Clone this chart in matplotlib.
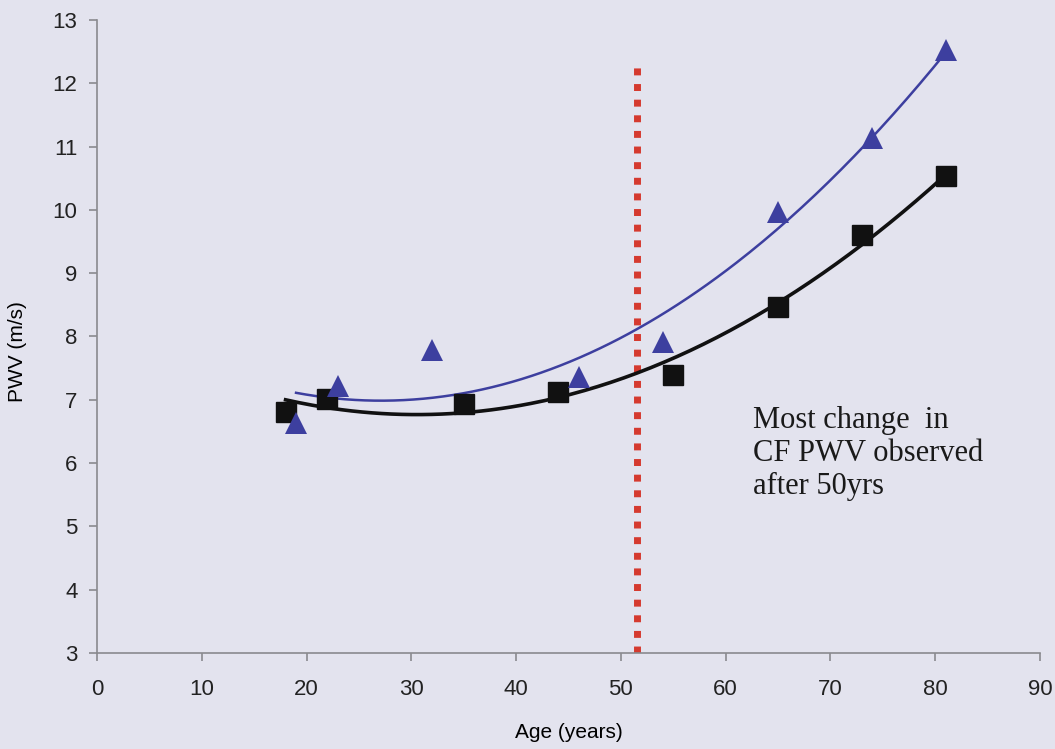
import numpy as np
import matplotlib.pyplot as plt

# carotid-femoral PWV by age, two groups
age_sq = [18, 22, 35, 44, 55, 65, 73, 81]
pwv_sq = [6.81, 7.02, 6.94, 7.13, 7.39, 8.47, 9.60, 10.54]
age_tri = [19, 23, 32, 46, 54, 65, 74, 81]
pwv_tri = [6.63, 7.22, 7.78, 7.36, 7.91, 9.96, 11.14, 12.52]
cutoff_age = 51.5
note = "Most change  in\nCF PWV observed\nafter 50yrs"

bg = "#e3e3ee"
blue = "#3d3f9f"
red = "#d53a2f"

fig = plt.figure(figsize=(10.55, 7.49), dpi=100, facecolor=bg)
ax = fig.add_axes([0.0919, 0.1282, 0.8939, 0.8451], facecolor=bg)


def quad_trend(x, y):
    c = np.polyfit(x, y, 2)
    xs = np.linspace(min(x), max(x), 200)
    return xs, np.polyval(c, xs)


xs, ys = quad_trend(age_tri, pwv_tri)
ax.plot(xs, ys, color=blue, lw=1.8, zorder=3)
xs, ys = quad_trend(age_sq, pwv_sq)
ax.plot(xs, ys, color="#111111", lw=2.6, zorder=3)

ax.plot(age_sq, pwv_sq, ls="none", marker="s", ms=14, color="#111111", zorder=4)
ax.plot(age_tri, pwv_tri, ls="none", marker="^", ms=16, color=blue,
        markeredgewidth=0, zorder=5)

ax.plot([cutoff_age, cutoff_age], [3, 12.35], color=red, lw=5,
        dashes=(1, 1.25), dash_capstyle="butt", zorder=2)

ax.text(62.6, 6.15, note, family="Liberation Serif", fontsize=22,
        color="#1a1a1a", va="center", linespacing=1.2)

ax.set_xlim(0, 90)
ax.set_ylim(3, 13)
ax.set_xticks(range(0, 91, 10))
ax.set_yticks(range(3, 14))
ax.set_xlabel("Age (years)", family="Liberation Sans", fontsize=15, labelpad=16)
ax.set_ylabel("PWV (m/s)", family="Liberation Sans", fontsize=15)
ax.yaxis.set_label_coords(-0.074, 0.476)

for s in ["top", "right"]:
    ax.spines[s].set_visible(False)
for s in ["left", "bottom"]:
    ax.spines[s].set_color("#8a8a8f")
    ax.spines[s].set_linewidth(1.2)
ax.tick_params(direction="out", length=6, width=1.2, color="#8a8a8f",
               labelsize=16, labelcolor="#222222", pad=8)
ax.tick_params(axis="x", pad=13)
for lab in ax.get_xticklabels() + ax.get_yticklabels():
    lab.set_family("Liberation Sans")

fig.savefig("out.png", dpi=100, facecolor=bg)
